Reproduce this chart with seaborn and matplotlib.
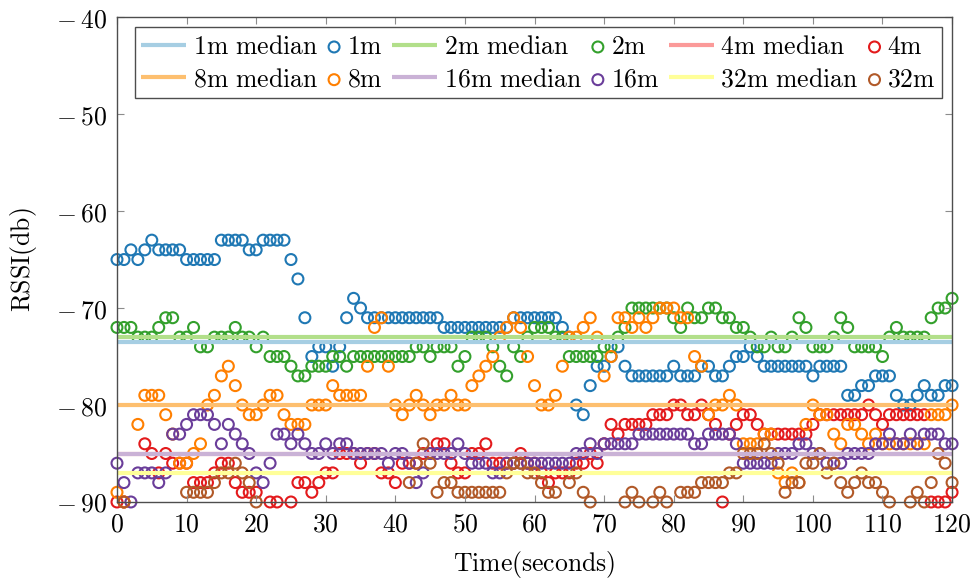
import numpy as np
import pandas as pd
import seaborn as sns
import matplotlib
matplotlib.use("Agg")
import matplotlib.pyplot as plt
from matplotlib.ticker import FuncFormatter, MultipleLocator
from matplotlib.legend_handler import HandlerLine2D
from matplotlib.lines import Line2D

nan = np.nan
time = list(range(0, 121))

rssi_1m = [
    -65, -65, -64, -65, -64, -63, -64, -64, -64, -64,
    -65, -65, -65, -65, -65, -63, -63, -63, -63, -64,
    -64, -63, -63, -63, -63, -65, -67, -71, -75, -74,
    -74, -76, -74, -71, -69, -70, -71, -71, -71, -71,
    -71, -71, -71, -71, -71, -71, -71, -72, -72, -72,
    -72, -72, -72, -72, -72, -72, -72, -71, -71, -71,
    -71, -71, -71, -71, -72, -73, -80, -81, -78, -76,
    -76, -75, -74, -76, -77, -77, -77, -77, -77, -77,
    -76, -77, -77, -77, -76, -76, -77, -77, -76, -75,
    -75, -74, -75, -76, -76, -76, -76, -76, -76, -76,
    -77, -76, -76, -76, -76, -79, -79, -78, -78, -77,
    -77, -77, -79, -80, -80, -79, -78, -79, -79, -78, -78,
]
rssi_2m = [
    -72, -72, -72, -73, -73, -73, -72, -71, -71, -73,
    -73, -72, -74, -74, -73, -73, -73, -72, -73, -73,
    -74, -73, -75, -75, -75, -76, -77, -77, -76, -76,
    -76, -75, -75, -76, -75, -75, -75, -75, -75, -75,
    -75, -75, -75, -74, -74, -75, -74, -74, -74, -76,
    -75, -73, -73, -73, -74, -76, -77, -74, -75, -73,
    -72, -72, -72, -73, -73, -75, -75, -75, -75, -75,
    -74, -74, -73, -72, -70, -70, -70, -70, -70, -70,
    -71, -72, -70, -71, -71, -70, -70, -71, -71, -72,
    -72, -73, -74, -74, -73, -74, -74, -73, -71, -72,
    -74, -74, -74, -73, -71, -72, -74, -74, -74, -74,
    -75, -73, -72, -73, -73, -73, -73, -71, -70, -70, -69,
]
rssi_4m = [
    -90, -90, nan, nan, -84, -85, -87, -85, -86, -86,
    -86, -88, -88, -88, -87, -86, -86, -88, -89, -89,
    -89, nan, -90, -90, nan, -90, -88, -88, -89, -88,
    -87, -87, -85, -85, -85, -86, -85, -85, -87, -87,
    -88, -86, -86, -86, -85, -85, -84, -84, -86, -87,
    -87, -85, -85, -84, -86, -86, -86, -86, -85, -86,
    -86, -87, -88, -87, -87, -87, -86, -86, -85, -86,
    -84, -82, -83, -82, -82, -82, -82, -81, -81, -81,
    -80, -80, -81, -81, -80, -81, -82, -90, -83, -82,
    -81, -81, -82, -83, -83, -83, -83, -83, -83, -83,
    -82, -81, -81, -81, -81, -81, -81, -81, -80, -81,
    -82, -81, -81, -81, -81, -81, -81, -90, -90, -90, -89,
]
rssi_8m = [
    -89, -90, nan, -82, -79, -79, -79, -81, -83, -86,
    -86, -85, -84, -80, -79, -77, -76, -78, -80, -81,
    -81, -80, -79, -79, -81, -82, -82, -82, -80, -80,
    -80, -78, -79, -79, -79, -79, -76, -72, -71, -76,
    -80, -81, -80, -79, -80, -81, -80, -80, -79, -80,
    -80, -78, -77, -76, -75, -73, -72, -71, -72, -75,
    -78, -80, -80, -79, -76, -73, -73, -72, -71, -73,
    -77, -75, -71, -71, -72, -71, -72, -71, -70, -70,
    -70, -71, -71, -75, -76, -81, -80, -80, -79, -80,
    -84, -84, -84, -83, -83, -87, -88, -87, -88, -82,
    -80, -81, -81, -83, -84, -82, -82, -83, -84, -83,
    -84, -84, -84, -84, -84, -84, -84, -81, -81, -81, -80,
]
rssi_16m = [
    -86, -88, -90, -87, -87, -87, -88, -87, -83, -83,
    -82, -81, -81, -81, -82, -84, -82, -83, -84, -85,
    -87, -88, -86, -83, -83, -84, -83, -84, -85, -85,
    -84, -85, -84, -84, -85, -85, -85, -85, -85, -86,
    -85, -85, -86, -88, -87, -85, -85, -85, -85, -84,
    -85, -86, -86, -86, -87, -87, -86, -86, -86, -86,
    -86, -86, -86, -86, -86, -86, -85, -85, -84, -85,
    -84, -84, -84, -84, -84, -83, -83, -83, -83, -83,
    -83, -83, -83, -84, -84, -83, -83, -83, -83, -84,
    -86, -86, -86, -86, -86, -85, -85, -85, -84, -84,
    -85, -85, -86, -86, -86, -85, -85, -85, -85, -84,
    -84, -83, -84, -84, -83, -84, -83, -83, -83, -84, -84,
]
rssi_32m = [
    nan, -90, nan, nan, nan, nan, nan, nan, nan, nan,
    -89, -89, -89, -89, -88, -87, -87, -86, -87, -88,
    -90, nan, nan, nan, nan, nan, nan, nan, nan, nan,
    nan, nan, nan, nan, nan, nan, nan, nan, nan, nan,
    nan, nan, -88, -86, -84, -86, -89, -88, -88, -89,
    -89, -89, -89, -89, -89, -89, -87, -86, -86, -87,
    -87, -88, -89, -89, nan, -88, -87, -89, -90, nan,
    nan, nan, nan, -90, -89, -90, nan, -90, -89, -90,
    nan, -89, -89, -89, -88, -88, -88, -88, -87, -87,
    -85, -85, -85, -84, -85, -86, -89, -88, -88, -86,
    -86, -85, -87, -86, -88, -89, -88, -87, -88, -88,
    -89, -90, nan, nan, -90, -89, -90, -88, -85, -86, -88,
]

distances = ["1m", "2m", "4m", "8m", "16m", "32m"]
medians = [-73.5, -73.0, -85.0, -80.0, -85.0, -87.0]
series = [rssi_1m, rssi_2m, rssi_4m, rssi_8m, rssi_16m, rssi_32m]

pal = sns.color_palette("Paired", 12)

plt.rcParams["mathtext.fontset"] = "cm"
plt.rcParams["font.family"] = ["DejaVu Serif"]

fig = plt.figure(figsize=(9.79, 5.80), dpi=100)
ax = fig.add_axes([0.1195, 0.1345, 0.853, 0.836])

FS = 18.5
for i, (d, vals, med) in enumerate(zip(distances, series, medians)):
    light = pal[2 * i]
    dark = pal[2 * i + 1]
    sns.lineplot(x=[time[0], time[-1]], y=[med, med], color=light, linewidth=3.0,
                 ax=ax, label=r"$\mathrm{\quad\;\, %s\ median}$" % d)
    sns.scatterplot(x=time, y=vals, ax=ax, marker="o", s=62, facecolor="none",
                    edgecolor=dark, linewidth=1.5, clip_on=False,
                    label=r"$\mathrm{%s}$" % d)

ax.set_xlim(0, 120)
ax.set_ylim(-90, -40)
ax.xaxis.set_major_locator(MultipleLocator(10))
ax.yaxis.set_major_locator(MultipleLocator(10))


def tick_fmt(v, p):
    v = int(round(v))
    if v < 0:
        return r"$-\:%d$" % (-v)
    return r"$%d$" % v


fmt = FuncFormatter(tick_fmt)
ax.xaxis.set_major_formatter(fmt)
ax.yaxis.set_major_formatter(fmt)
ax.tick_params(direction="in", top=True, right=True, length=5, width=0.8,
               color="0.55", labelsize=FS, pad=7)
for sp in ax.spines.values():
    sp.set_color("0.3")
    sp.set_linewidth(1.0)

ax.set_xlabel(r"$\mathrm{Time(seconds)}$", fontsize=FS, labelpad=9)
ax.set_ylabel(r"$\mathrm{RSSI(db)}$", fontsize=FS, labelpad=12)


class LongLine(HandlerLine2D):
    """Legend line that extends to the right into the label's leading space."""
    def create_artists(self, legend, orig_handle, xdescent, ydescent, width,
                       height, fontsize, trans):
        ext = 1.25 * fontsize
        y = height / 2.0 - ydescent
        ln = Line2D([-xdescent, -xdescent + width + ext], [y, y],
                    color=orig_handle.get_color(),
                    linewidth=orig_handle.get_linewidth(),
                    solid_capstyle="butt")
        ln.set_transform(trans)
        return [ln]


handles, labels = ax.get_legend_handles_labels()
row1 = list(range(0, 6))
row2 = list(range(6, 12))
order = []
for a, b in zip(row1, row2):
    order += [a, b]
hs = [handles[k] for k in order]
ls = [labels[k] for k in order]
hmap = {h: LongLine() for h in hs if isinstance(h, Line2D)}
leg = ax.legend(hs, ls, handler_map=hmap,
                ncol=6, loc="upper left", bbox_to_anchor=(0.0216, 0.979),
                fontsize=FS, frameon=True, fancybox=False, framealpha=1,
                edgecolor="0.3", handlelength=0.5, handletextpad=0.25,
                columnspacing=0.38, borderpad=0.25, labelspacing=0.3,
                borderaxespad=0)
leg.get_frame().set_linewidth(1.0)

fig.savefig("out.png", dpi=100)
